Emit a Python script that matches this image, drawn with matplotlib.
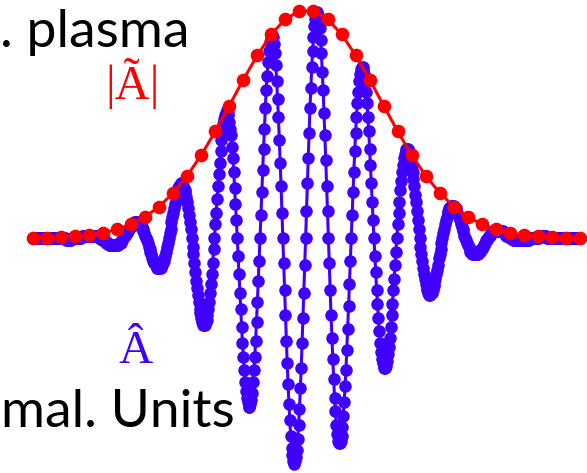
import numpy as np
import matplotlib
matplotlib.use("Agg")
import matplotlib.pyplot as plt

# normalised field A-hat, sampled 16 times per envelope sample
a_hat = [
    0.0, 0.0, 0.0, 0.0, 0.0, 0.0, 0.0, 0.0, 0.0, 0.0,
    0.0, 0.0, 0.0, 0.0, 0.0, 0.0, 0.0, 0.0, 0.0, 0.0,
    0.0, 0.0, 0.0, 0.0, 0.0, 0.0, 0.0, 0.0, 0.0, 0.0,
    0.0, 0.0, 0.0, 0.0, 0.0, 0.0, 0.0,
    0.0, -0.01, -0.01, -0.01, -0.01, -0.01, -0.01,
    0.0, 0.0, 0.0, 0.0, 0.0, 0.0, 0.0, 0.0, 0.0, 0.0, 0.0, 0.0,
    0.01, 0.01, 0.01, 0.01, 0.01, 0.01, 0.01, 0.01, 0.01, 0.01,
    0.01, 0.01, 0.01, 0.01, 0.01, 0.01, 0.01, 0.01, 0.01,
    0.0, 0.0, 0.0, 0.0,
    -0.01, -0.01, -0.01, -0.01,
    -0.02, -0.02, -0.02, -0.02,
    -0.03, -0.03, -0.03, -0.03, -0.03, -0.03, -0.03, -0.03, -0.03, -0.03, -0.03,
    -0.02, -0.02, -0.02, -0.01, -0.01, 0.0,
    0.01, 0.01, 0.02, 0.02, 0.03, 0.04, 0.04, 0.05, 0.05, 0.06, 0.06,
    0.07, 0.07, 0.07, 0.07, 0.07, 0.07,
    0.06, 0.06, 0.05, 0.05, 0.04, 0.03, 0.02, 0.01, 0.0,
    -0.01, -0.02, -0.04, -0.05, -0.06, -0.07, -0.09, -0.10, -0.11, -0.11, -0.12, -0.13, -0.13,
    -0.13, -0.13, -0.13, -0.13, -0.12, -0.11, -0.10, -0.09, -0.08, -0.06, -0.04, -0.02, 0.0,
    0.02, 0.04, 0.07, 0.09, 0.11, 0.13, 0.15, 0.17, 0.19, 0.21, 0.22, 0.23, 0.23,
    0.24, 0.24, 0.23, 0.22, 0.21, 0.20, 0.18, 0.16, 0.13, 0.10, 0.07, 0.04, 0.0,
    -0.04, -0.07, -0.11, -0.15, -0.19, -0.22, -0.25, -0.28, -0.31, -0.33, -0.35, -0.37, -0.38,
    -0.38, -0.38, -0.37, -0.36, -0.34, -0.31, -0.28, -0.24, -0.20, -0.16, -0.11, -0.05, 0.0,
    0.06, 0.11, 0.17, 0.23, 0.28, 0.33, 0.38, 0.43, 0.46, 0.50, 0.52, 0.54, 0.55,
    0.56, 0.55, 0.54, 0.51, 0.48, 0.45, 0.40, 0.35, 0.29, 0.22, 0.15, 0.08, 0.0,
    -0.08, -0.16, -0.24, -0.31, -0.39, -0.46, -0.52, -0.58, -0.63, -0.67, -0.70, -0.72, -0.74,
    -0.74, -0.73, -0.71, -0.68, -0.63, -0.58, -0.52, -0.45, -0.37, -0.28, -0.19, -0.10, 0.0,
    0.10, 0.20, 0.30, 0.39, 0.48, 0.57, 0.65, 0.71, 0.77, 0.82, 0.86, 0.88, 0.89,
    0.89, 0.88, 0.85, 0.81, 0.76, 0.69, 0.61, 0.53, 0.43, 0.33, 0.23, 0.11, 0.0,
    -0.11, -0.23, -0.34, -0.45, -0.55, -0.64, -0.73, -0.80, -0.87, -0.92, -0.95, -0.98, -0.99,
    -0.98, -0.96, -0.93, -0.88, -0.82, -0.75, -0.66, -0.57, -0.46, -0.35, -0.24, -0.12, 0.0,
    0.12, 0.24, 0.35, 0.46, 0.57, 0.66, 0.75, 0.82, 0.88, 0.93, 0.96, 0.98, 0.99,
    0.98, 0.96, 0.92, 0.87, 0.81, 0.73, 0.65, 0.55, 0.45, 0.34, 0.23, 0.12, 0.0,
    -0.11, -0.23, -0.34, -0.44, -0.53, -0.62, -0.70, -0.76, -0.82, -0.86, -0.89, -0.90, -0.90,
    -0.89, -0.87, -0.83, -0.78, -0.72, -0.65, -0.58, -0.49, -0.40, -0.30, -0.20, -0.10, 0.0,
    0.10, 0.20, 0.29, 0.38, 0.46, 0.53, 0.59, 0.64, 0.69, 0.72, 0.74, 0.75, 0.75,
    0.74, 0.72, 0.68, 0.64, 0.59, 0.53, 0.47, 0.39, 0.32, 0.24, 0.16, 0.08, 0.0,
    -0.08, -0.15, -0.23, -0.29, -0.35, -0.41, -0.46, -0.50, -0.53, -0.55, -0.56, -0.57, -0.57,
    -0.56, -0.54, -0.51, -0.48, -0.44, -0.39, -0.34, -0.29, -0.23, -0.18, -0.12, -0.06, 0.0,
    0.06, 0.11, 0.16, 0.21, 0.25, 0.29, 0.32, 0.35, 0.37, 0.38, 0.39, 0.39, 0.39,
    0.38, 0.37, 0.35, 0.32, 0.29, 0.26, 0.23, 0.19, 0.16, 0.12, 0.08, 0.04, 0.0,
    -0.04, -0.07, -0.10, -0.13, -0.16, -0.18, -0.20, -0.22, -0.23, -0.24, -0.25, -0.25, -0.24,
    -0.24, -0.23, -0.21, -0.20, -0.18, -0.16, -0.14, -0.12, -0.09, -0.07, -0.05, -0.02, 0.0,
    0.02, 0.04, 0.06, 0.08, 0.09, 0.11, 0.12, 0.13, 0.13, 0.14, 0.14, 0.14, 0.14,
    0.13, 0.13, 0.12, 0.11, 0.10, 0.09, 0.08, 0.06, 0.05, 0.04, 0.03, 0.01, 0.0,
    -0.01, -0.02, -0.03, -0.04, -0.05, -0.06, -0.06, -0.07, -0.07, -0.07, -0.07, -0.07, -0.07,
    -0.07, -0.07, -0.06, -0.06, -0.05, -0.05, -0.04, -0.03, -0.03, -0.02, -0.01, -0.01, 0.0,
    0.01, 0.01, 0.02, 0.02, 0.02,
    0.03, 0.03, 0.03, 0.03, 0.03, 0.03, 0.03, 0.03, 0.03, 0.03, 0.03, 0.03,
    0.02, 0.02, 0.02, 0.01, 0.01, 0.01, 0.01,
    0.0, 0.0, 0.0, 0.0,
    -0.01, -0.01, -0.01, -0.01, -0.01, -0.01, -0.01, -0.01, -0.01, -0.01,
    -0.01, -0.01, -0.01, -0.01, -0.01, -0.01, -0.01, -0.01, -0.01,
    0.0, 0.0, 0.0, 0.0, 0.0, 0.0, 0.0, 0.0, 0.0, 0.0, 0.0,
    0.01, 0.01, 0.01, 0.01, 0.01, 0.01, 0.01, 0.01,
    0.0, 0.0, 0.0, 0.0, 0.0, 0.0, 0.0, 0.0, 0.0, 0.0,
    0.0, 0.0, 0.0, 0.0, 0.0, 0.0, 0.0, 0.0, 0.0, 0.0,
    0.0, 0.0, 0.0, 0.0, 0.0, 0.0, 0.0, 0.0, 0.0, 0.0,
    0.0, 0.0, 0.0, 0.0, 0.0, 0.0, 0.0, 0.0, 0.0,
]

# envelope |A-tilde|
a_env = [
    0.001, 0.002, 0.004, 0.008, 0.013, 0.023, 0.038, 0.060, 0.093, 0.138,
    0.198, 0.273, 0.364, 0.468, 0.581, 0.695, 0.802, 0.894, 0.960, 0.996,
    0.996, 0.960, 0.894, 0.802, 0.695, 0.581, 0.468, 0.364, 0.273, 0.198,
    0.138, 0.093, 0.060, 0.038, 0.023, 0.013, 0.008, 0.004, 0.002, 0.001,
]

t_env = np.arange(len(a_env)) - (len(a_env) - 1) / 2
t_hat = np.arange(len(a_hat)) / 16 - (len(a_hat) - 1) / 32

fig = plt.figure(figsize=(5.87, 4.73), dpi=100)
ax = fig.add_axes([0, 0, 1, 1])

blue = "#4000FF"
red = "#FF0000"

ax.plot(t_hat, a_hat, "-o", color=blue, lw=2.2, ms=8, mec=blue, zorder=2)
ax.plot(t_env, a_env, "-o", color=red, lw=2.2, ms=8.8, mec=red, zorder=3)

ax.set_xlim(-21.85, 20.0)
ax.set_ylim(-1.031, 1.044)
ax.axis("off")

sans = ["Lato", "DejaVu Sans"]
serif = ["Liberation Serif", "DejaVu Serif"]
ax.annotate(". plasma", (0, 426), xycoords="figure pixels", ha="left",
            va="baseline", fontsize=38.5, family=sans, color="black")
ax.annotate("mal. Units", (1, 46), xycoords="figure pixels", ha="left",
            va="baseline", fontsize=38.5, family=sans, color="black")
ax.annotate("|Ã|", (133, 374), xycoords="figure pixels", ha="center",
            va="baseline", fontsize=35, family=serif, color=red)
ax.annotate("Â", (136, 110), xycoords="figure pixels", ha="center",
            va="baseline", fontsize=34, family=serif, color=blue)

fig.savefig("out.png", dpi=100)
